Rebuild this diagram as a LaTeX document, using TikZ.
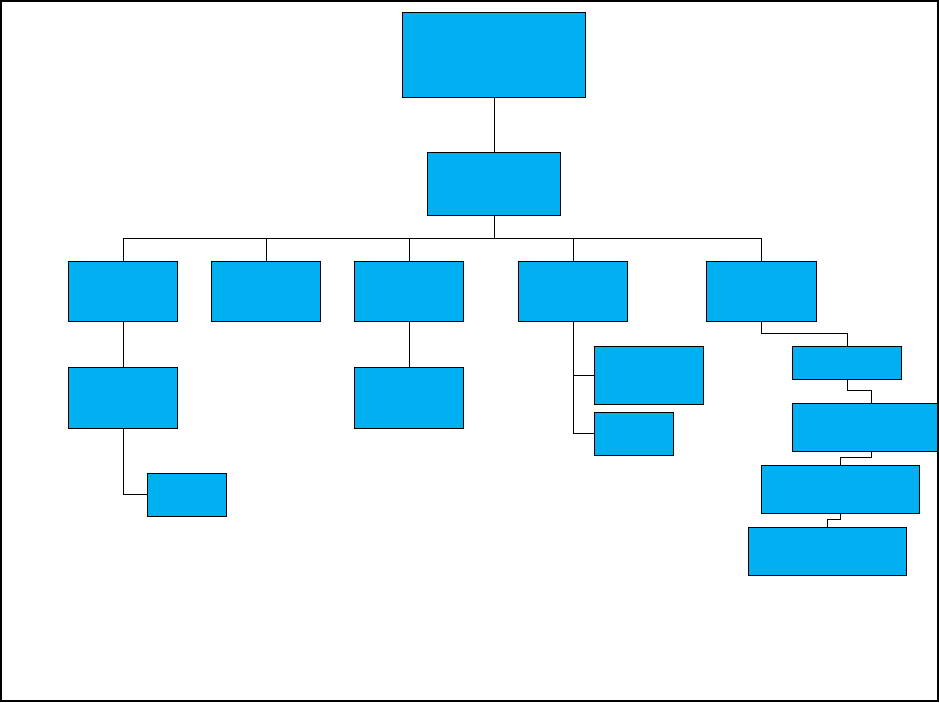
\documentclass[tikz,border=0pt]{standalone}
\definecolor{boxblue}{HTML}{00B0F0}
\begin{document}
\begin{tikzpicture}[x=1pt,y=-1pt,
  box/.style={draw=black, fill=boxblue, line width=0.9pt, inner sep=0pt, outer sep=0pt, rectangle},
  link/.style={draw=black, line width=0.9pt}]
\useasboundingbox (0,0) rectangle (939,702);
\begin{scope}
\clip (0,0) rectangle (939,702);
% boxes: centre, width, height
\node[box, minimum width=183pt, minimum height=85pt] (top) at (494,54.5) {};
\node[box, minimum width=133pt, minimum height=63pt] (mid) at (494,183.8) {};
\node[box, minimum width=109.4pt, minimum height=60pt] (A) at (123,291.3) {};
\node[box, minimum width=109pt, minimum height=60pt] (B) at (266,291.3) {};
\node[box, minimum width=109.4pt, minimum height=60pt] (C) at (409,291.3) {};
\node[box, minimum width=109pt, minimum height=60pt] (D) at (573,291.3) {};
\node[box, minimum width=110pt, minimum height=60pt] (E) at (761,291.3) {};
\node[box, minimum width=109.4pt, minimum height=61pt] (A2) at (123,397.5) {};
\node[box, minimum width=109.4pt, minimum height=61pt] (C2) at (409,397.5) {};
\node[box, minimum width=79pt, minimum height=43pt] (A3) at (186.5,494.5) {};
\node[box, minimum width=109pt, minimum height=58pt] (D1) at (648.8,375.3) {};
\node[box, minimum width=79.4pt, minimum height=43pt] (D2) at (634,433.8) {};
\node[box, minimum width=109.4pt, minimum height=33pt] (E1) at (847,362.8) {};
\node[box, minimum width=158pt, minimum height=48pt] (E2) at (871.3,427.3) {};
\node[box, minimum width=158pt, minimum height=48pt] (E3) at (840.3,489.3) {};
\node[box, minimum width=158pt, minimum height=48pt] (E4) at (827.3,551.3) {};
\coordinate (bar) at (494,238.3);
% connectors
\draw[link] (top.south) -- (mid.north);
\draw[link] (mid.south) -- (bar);
\draw[link] (A.north) |- (bar) -| (E.north);
\draw[link] (B.north) -- (B.north |- bar);
\draw[link] (C.north) -- (C.north |- bar);
\draw[link] (D.north) -- (D.north |- bar);
\draw[link] (A.south) -- (A2.north);
\draw[link] (A2.south) |- (A3.west);
\draw[link] (C.south) -- (C2.north);
\draw[link] (D.south) |- (D2.west);
\draw[link] (D.south |- D1.west) -- (D1.west);
\draw[link] (E.south) -- ++(0,12.4) -| (E1.north);
\draw[link] (E1.south) -- ++(0,11) -| (E2.north);
\draw[link] (E2.south) -- ++(0,6) -| (E3.north);
\draw[link] (E3.south) -- ++(0,6) -| (E4.north);
\end{scope}
% outer frame
\draw[line width=2.2pt] (1.1,1.1) rectangle (937.9,700.9);
\end{tikzpicture}
\end{document}
